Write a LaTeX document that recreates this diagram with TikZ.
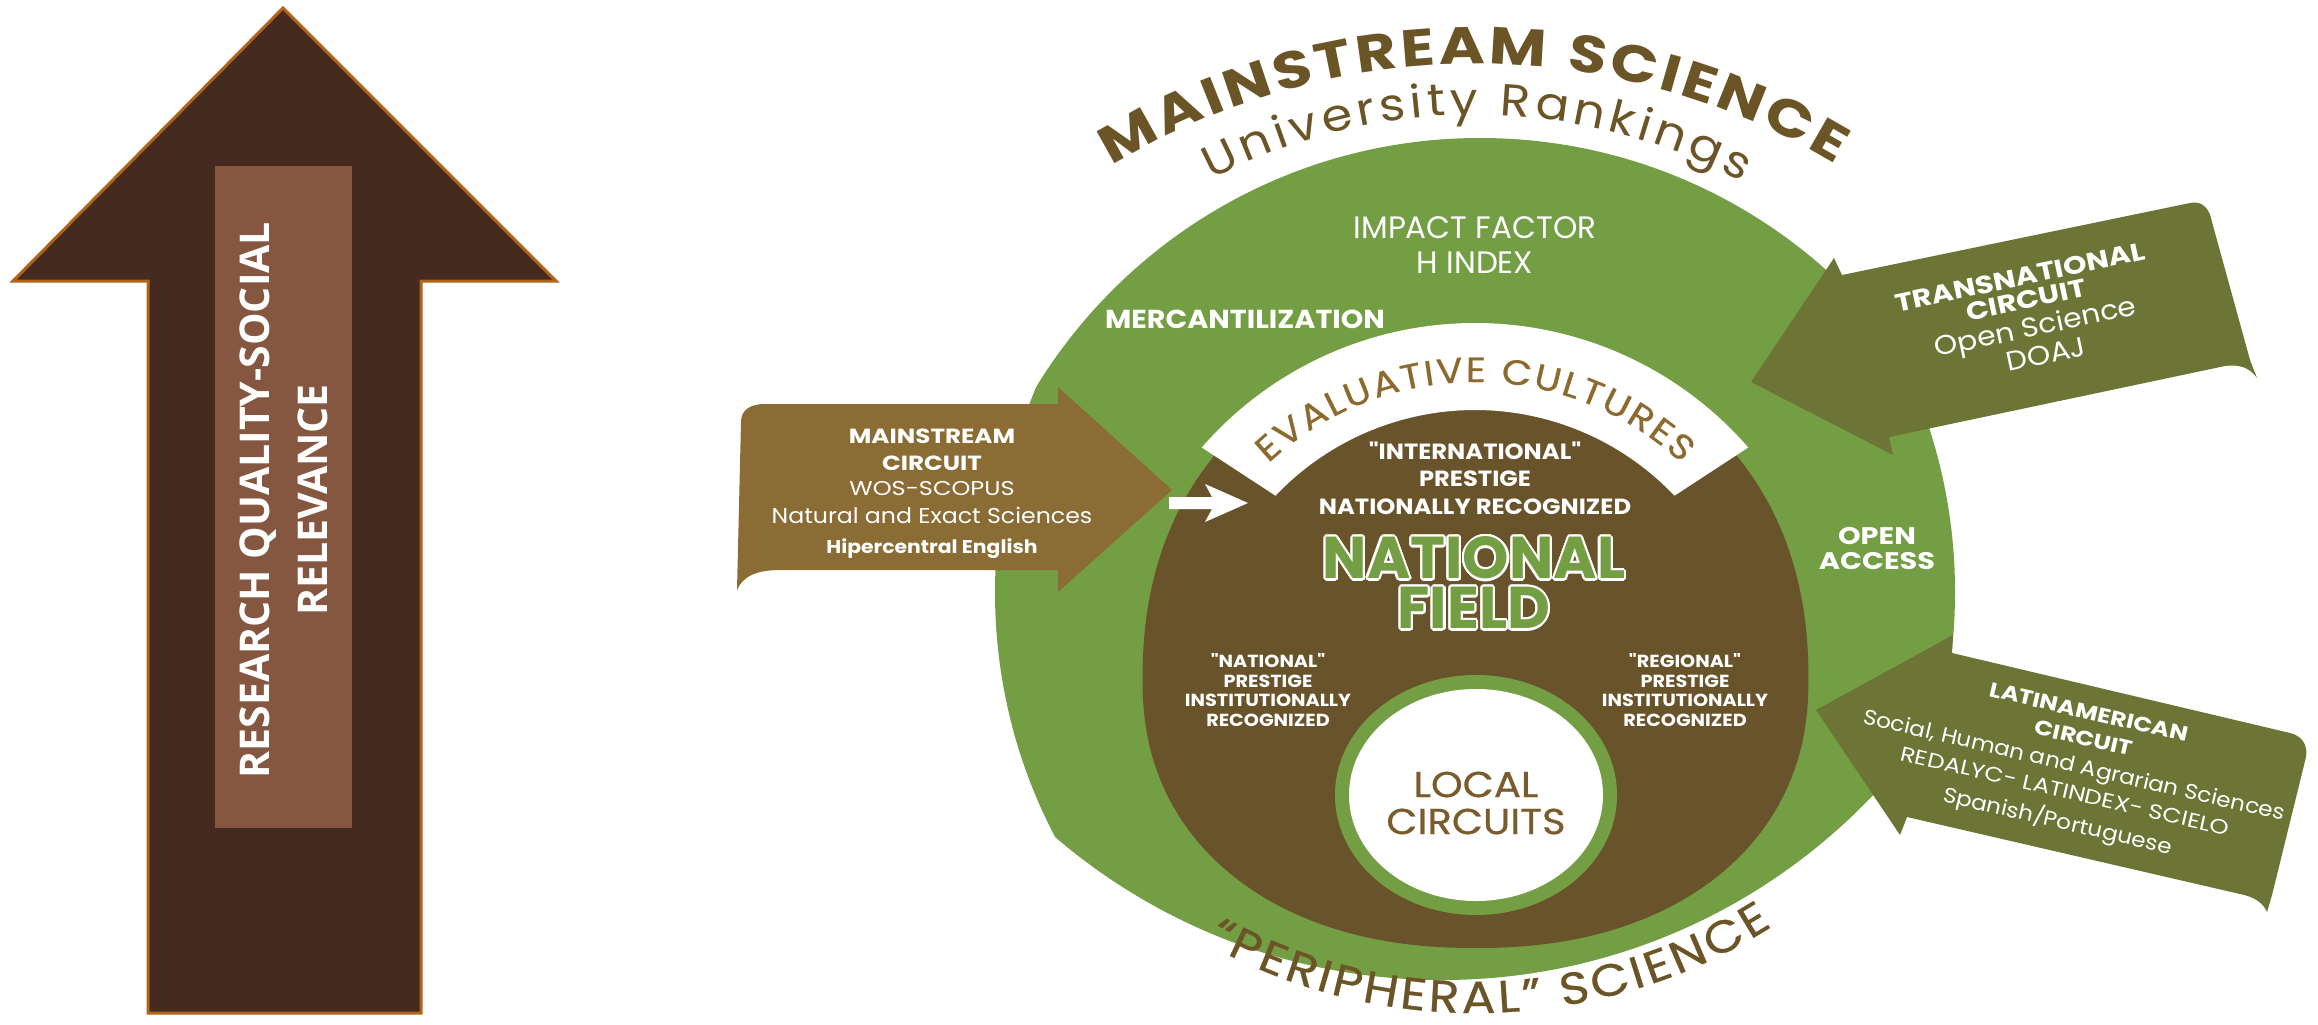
\documentclass[tikz,border=0pt]{standalone}
\usepackage{fontspec}
\usepackage{contour}
\usetikzlibrary{decorations.text,calc}
\newfontfamily\popn{Poppins}
\newfontfamily\pop{Poppins}[FakeStretch=1.1]
\newfontfamily\popw{Poppins}[FakeStretch=1.2]
\newfontfamily\popm{Poppins}[FakeStretch=1.12,FakeBold=0.6]
\newfontfamily\opens{Open Sans}
\definecolor{grn}{HTML}{749E44}
\definecolor{brn}{HTML}{69532A}
\definecolor{msc}{HTML}{8A6C34}
\definecolor{olv}{HTML}{6C7536}
\definecolor{ttl}{HTML}{6B5426}
\definecolor{evc}{HTML}{8C6A2E}
\definecolor{loc}{HTML}{7A5B2B}
\definecolor{larrow}{HTML}{452A20}
\definecolor{larrowb}{HTML}{B0641A}
\definecolor{lrect}{HTML}{855640}
\contourlength{2.2pt}
\tikzset{
  wtxt/.style={text=white,align=center,inner sep=0pt},
  banner/.style={fill=#1},
  arctext/.style={decorate,decoration={text along path,text align=fit to path,text={#1}}}
}
\begin{document}
\begin{tikzpicture}[x=1pt,y=1pt]
\useasboundingbox (0,0) rectangle (2318,-1025);
\fill[white] (0,0) rectangle (2318,-1025);

% ---------- left big arrow ----------
\draw[draw=larrowb,line width=3,fill=larrow,line join=miter]
  (283,-8) -- (556,-281) -- (421,-281) -- (421,-1013) -- (148,-1013) -- (148,-281) -- (13,-281) -- cycle;
\fill[lrect] (215,-166) rectangle (352,-828);
\node[wtxt,rotate=90,font=\opens\bfseries\fontsize{41}{58}\selectfont] (rq) at (284,-500)
  {RESEARCH QUALITY-SOCIAL\\RELEVANCE};

% ---------- outer green field ----------
\begin{scope}
  \clip (1480,-658) circle[radius=520];
  \clip (1442,-385) circle[radius=595];
  \fill[grn] (1475,-592) ellipse[x radius=480,y radius=505];
\end{scope}
% ---------- brown national field (superellipse) ----------
\fill[brn] plot[domain=0.5:360.5,samples=181]
  ({1475.5+333*cos(\x)*pow(abs(cos(\x)),-0.0909)},
   {-680+(301.5+33.5*sin(\x)/abs(sin(\x)))*sin(\x)*pow(abs(sin(\x)),-0.0909)}) -- cycle;

% evaluative cultures band
\coordinate (bc) at (1475,-685);
\fill[white] ($(bc)+(41:362)$) arc[start angle=41,end angle=139,radius=362]
  -- ($(bc)+(136.5:275)$) arc[start angle=136.5,end angle=43.5,radius=275] -- cycle;
\path[arctext={|\popm\fontsize{35}{35}\selectfont\color{evc}|EVALUATIVE CULTURES}]
  ($(bc)+(133:303)$) arc[start angle=133,end angle=47,radius=303];

% local circuits
\fill[grn] (1476,-795) ellipse[x radius=141,y radius=120];
\fill[white] (1476,-795) ellipse[x radius=127,y radius=106];
\node[align=center,inner sep=0pt,text=loc,font=\popm\fontsize{36}{37}\selectfont] (local) at (1476,-803) {LOCAL\\CIRCUITS};

% ---------- titles on arcs ----------
\coordinate (tc1) at (1475,-759);
\path[arctext={|\popw\bfseries\fontsize{52}{52}\selectfont\color{ttl}|MAINSTREAM SCIENCE}]
  ($(tc1)+(121.5:695)$) arc[start angle=121.5,end angle=58.8,radius=695];
\coordinate (tc2) at (1475,-685);
\path[arctext={|\pop\fontsize{45}{45}\selectfont\color{ttl}|University Rankings}]
  ($(tc2)+(117.5:570)$) arc[start angle=117.5,end angle=62,radius=570];
\coordinate (tc3) at (1475,-460);
\path[arctext={|\popm\fontsize{45}{45}\selectfont\color{ttl}|“PERIPHERAL” SCIENCE}]
  ($(tc3)+(241:553)$) arc[start angle=241,end angle=302.5,radius=553];

% ---------- banners ----------
\fill[banner=msc] (765,-404) -- (1058,-404) -- (1058,-387) -- (1172,-490) -- (1058,-592) -- (1058,-570)
  -- (780,-570) .. controls (757,-570) and (743,-576) .. (737,-590)
  -- (741,-422) .. controls (741,-410) and (750,-404) .. (765,-404) -- cycle;
\fill[banner=olv] (1751,-382) -- (1834,-258) -- (1842,-275) -- (2190,-203)
  .. controls (2203,-200) and (2210,-210) .. (2212,-222) -- (2250,-360) -- (2257,-378)
  .. controls (2250,-368) and (2240,-364) .. (2225,-366) -- (1889,-437) -- (1893,-455) -- cycle;
\fill[banner=olv] (1816,-710) -- (1953,-635) -- (1952,-653) -- (2290,-733)
  .. controls (2302,-736) and (2308,-745) .. (2306,-757) -- (2272,-895) -- (2267,-912)
  .. controls (2263,-903) and (2255,-897) .. (2240,-894) -- (1907,-817) -- (1900,-835) -- cycle;

% small white arrow
\fill[white] (1169,-497) -- (1212,-497) -- (1205,-484) -- (1248,-503) -- (1205,-522) -- (1212,-509) -- (1169,-509) -- cycle;

% ---------- texts in circle ----------
\node[wtxt,font=\popn\fontsize{31}{35}\selectfont] (impact) at (1475,-245) {IMPACT FACTOR\\H INDEX};
\node[wtxt,font=\pop\bfseries\fontsize{26}{26}\selectfont] (merc) at (1245,-319) {MERCANTILIZATION};
\node[wtxt,font=\popw\bfseries\fontsize{24}{25}\selectfont] (oa) at (1877,-549) {OPEN\\ACCESS};
\node[wtxt,font=\pop\bfseries\fontsize{22}{27.5}\selectfont] (intl) at (1475,-478)
  {"INTERNATIONAL"\\PRESTIGE\\NATIONALLY RECOGNIZED};
\node[align=center,inner sep=0pt,font=\popn\bfseries\fontsize{59}{50}\selectfont] (natf) at (1474,-584)
  {\contour{white}{\textcolor{grn}{NATIONAL}}\\\contour{white}{\textcolor{grn}{FIELD}}};
\node[wtxt,font=\pop\bfseries\fontsize{17.5}{19.5}\selectfont] (natp) at (1268,-690)
  {"NATIONAL"\\PRESTIGE\\INSTITUTIONALLY\\RECOGNIZED};
\node[wtxt,font=\pop\bfseries\fontsize{17.5}{19.5}\selectfont] (regp) at (1685,-690)
  {"REGIONAL"\\PRESTIGE\\INSTITUTIONALLY\\RECOGNIZED};

% ---------- mainstream circuit text ----------
\node[wtxt,anchor=base,font=\popw\bfseries\fontsize{20.5}{20}\selectfont] (ms1) at (932,-443) {MAINSTREAM};
\node[wtxt,anchor=base,font=\popw\bfseries\fontsize{20.5}{20}\selectfont] (ms2) at (932,-470) {CIRCUIT};
\node[wtxt,anchor=base,font=\popw\fontsize{20}{20}\selectfont] (ms3) at (932,-495) {WOS-SCOPUS};
\node[wtxt,anchor=base,font=\pop\fontsize{21.5}{20}\selectfont] (ms4) at (932,-523) {Natural and Exact Sciences};
\node[wtxt,anchor=base,font=\pop\bfseries\fontsize{18.5}{20}\selectfont] (ms5) at (932,-553) {Hipercentral English};

% ---------- transnational text ----------
\node[wtxt,rotate=12,font=\popw\bfseries\fontsize{25}{25}\selectfont] (tr1) at (2020,-277) {TRANSNATIONAL};
\node[wtxt,rotate=12,font=\popw\bfseries\fontsize{25}{25}\selectfont] (tr2) at (2026,-300) {CIRCUIT};
\node[wtxt,rotate=12,font=\pop\fontsize{27}{27}\selectfont] (tr3) at (2036,-329) {Open Science};
\node[wtxt,rotate=12,font=\pop\fontsize{27}{27}\selectfont] (tr4) at (2046,-354) {DOAJ};

% ---------- latin american text ----------
\node[wtxt,rotate=-13,font=\popw\bfseries\fontsize{20.5}{20}\selectfont] (la1) at (2089,-712) {LATINAMERICAN};
\node[wtxt,rotate=-13,font=\popw\bfseries\fontsize{20.5}{20}\selectfont] (la2) at (2084,-738) {CIRCUIT};
\node[wtxt,rotate=-13,font=\pop\fontsize{21}{20}\selectfont] (la3) at (2074,-767) {Social, Human and Agrarian Sciences};
\node[wtxt,rotate=-13,font=\popw\fontsize{20.5}{20}\selectfont] (la4) at (2065,-791) {REDALYC- LATINDEX- SCIELO};
\node[wtxt,rotate=-13,font=\pop\fontsize{21}{20}\selectfont] (la5) at (2058,-821) {Spanish/Portuguese};
\end{tikzpicture}
\end{document}
